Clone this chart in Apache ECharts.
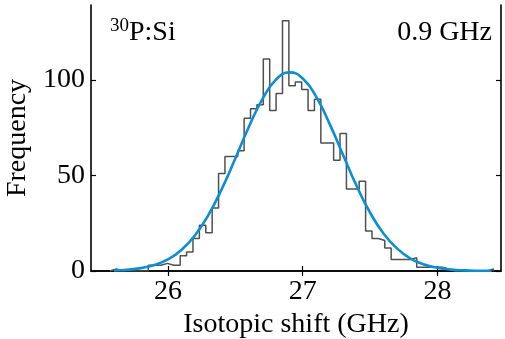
<!DOCTYPE html>
<html><head><meta charset="utf-8">
<script src="https://cdn.jsdelivr.net/npm/echarts@6/dist/echarts.min.js"></script>
<style>html,body{margin:0;padding:0;background:#fff}#c{width:505px;height:339px}</style>
</head><body><div id="c"></div>
<script>
// Histogram: 60 equal bins starting at binStart
const binStart = 25.57;
const binWidth = 0.0474;
const counts = [1,0,0,0,0,0,3,3,4,3,
                3,8,10,17,24,20,33,51,60,60,
                63,80,85,87,111,84,93,131,97,99,
                95,84,90,67,67,58,72,43,43,47,
                21,17,16,12,6,6,6,7,2,2,
                2,2,1,0,0,0,0,0,0,1];
// Gaussian fit curve
const fitX = [25.6,25.7,25.8,25.9,26.0,26.1,26.2,26.3,26.4,26.5,26.6,26.7,26.8,26.9,27.0,
              27.1,27.2,27.3,27.4,27.5,27.6,27.7,27.8,27.9,28.0,28.1,28.2,28.3,28.4];
const fitY = [0.29,0.68,1.52,3.15,6.1,11.0,18.6,29.3,43.0,58.9,75.4,89.9,100.1,104.0,100.8,
              91.2,76.9,60.6,44.5,30.5,19.5,11.7,6.5,3.37,1.64,0.74,0.31,0.12,0.05];
const xTicks = [26, 27, 28];
const yTicks = [0, 50, 100];
const xTitle = 'Isotopic shift (GHz)';
const yTitle = 'Frequency';
const massNumber = '30';
const sampleLabel = 'P:Si';
const resolutionLabel = '0.9 GHz';

const FONT = '"Liberation Serif", "Times New Roman", serif';
const stepData = [[binStart, 0]];
counts.forEach((c, i) => stepData.push([binStart + i * binWidth, c]));
const lastEdge = binStart + counts.length * binWidth;
stepData.push([lastEdge, counts[counts.length - 1]]);
stepData.push([lastEdge, 0]);
const fitData = fitX.map((x, i) => [x, fitY[i]]);

const axisLine = {show: true, lineStyle: {color: '#000', width: 1.6}};
const tickStyle = {show: true, inside: true, length: 5, lineStyle: {color: '#000', width: 1.2}};
const xMin = 25.43, xMax = 28.47, yMin = 0, yMax = 139.3;

const chart = echarts.init(document.getElementById('c'), null, {renderer: 'canvas'});
chart.setOption({
  animation: false,
  backgroundColor: '#fff',
  grid: {left: 91, right: 4, top: 5, bottom: 68, containLabel: false, outerBoundsMode: 'none'},
  xAxis: [{
    type: 'value', min: xMin, max: xMax, position: 'bottom',
    axisLine: axisLine,
    axisTick: Object.assign({customValues: xTicks}, tickStyle),
    axisLabel: {customValues: xTicks, color: '#000', fontFamily: FONT, fontSize: 28, margin: 7},
    splitLine: {show: false},
    name: xTitle, nameLocation: 'middle', nameGap: 38,
    nameTextStyle: {color: '#000', fontFamily: FONT, fontSize: 28}
  }, {
    type: 'value', min: xMin, max: xMax, position: 'top',
    axisLine: axisLine,
    axisTick: Object.assign({customValues: xTicks}, tickStyle),
    axisLabel: {show: false}, splitLine: {show: false}
  }],
  yAxis: [{
    type: 'value', min: yMin, max: yMax, position: 'left',
    axisLine: axisLine,
    axisTick: Object.assign({customValues: yTicks}, tickStyle),
    axisLabel: {customValues: yTicks, color: '#000', fontFamily: FONT, fontSize: 28, margin: 6},
    splitLine: {show: false},
    name: yTitle, nameLocation: 'middle', nameGap: 52, nameRotate: 90,
    nameTextStyle: {color: '#000', fontFamily: FONT, fontSize: 28}
  }, {
    type: 'value', min: yMin, max: yMax, position: 'right',
    axisLine: axisLine,
    axisTick: Object.assign({customValues: yTicks}, tickStyle),
    axisLabel: {show: false}, splitLine: {show: false}
  }],
  series: [{
    type: 'line', step: 'end', data: stepData, showSymbol: false, symbol: 'none',
    lineStyle: {color: '#505050', width: 1.5}, z: 2, silent: true
  }, {
    type: 'line', smooth: 0.5, data: fitData, showSymbol: false, symbol: 'none',
    lineStyle: {color: '#0a8fd6', width: 2.6}, z: 3, silent: true
  }],
  graphic: [{
    type: 'text', left: 110, top: 17, z: 10,
    style: {
      text: '{sup|' + massNumber + '}{main|' + sampleLabel + '}',
      rich: {
        sup: {fontFamily: FONT, fontSize: 19, fill: '#000', verticalAlign: 'top', lineHeight: 30},
        main: {fontFamily: FONT, fontSize: 28, fill: '#000', verticalAlign: 'bottom', lineHeight: 30}
      }
    }
  }, {
    type: 'text', right: 13, top: 19, z: 10,
    style: {text: resolutionLabel, fontFamily: FONT, fontSize: 28, fill: '#000'}
  }]
});
</script></body></html>
